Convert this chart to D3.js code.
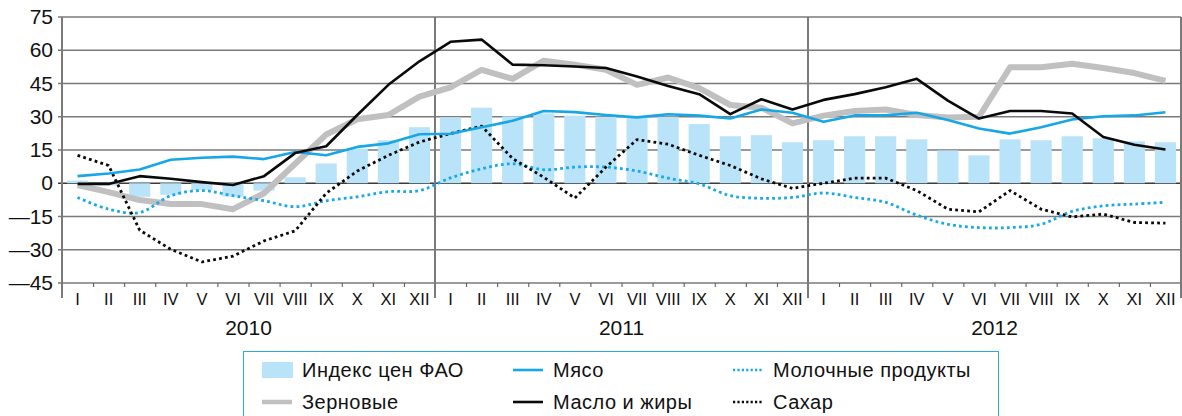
<html>
<meta charset="utf-8">
<body style="margin:0;background:#fff">
<script src="https://d3js.org/d3.v7.min.js"></script>
<div id="chart"></div>
<script>

// month labels and years
var months = ["I","II","III","IV","V","VI","VII","VIII","IX","X","XI","XII"]
var years = ["2010","2011","2012"]

// values, % change, Jan 2010 .. Dec 2012
var fao = [1.2,-1,-6.1,-5.2,-3,-6,-3.3,2.7,8.9,15.6,19.4,25.3,
           29.8,34.1,30.2,31.5,30.5,30,29.7,30,26.7,21.2,21.7,18.5,
           19.4,21.2,21.2,19.8,14.8,12.6,19.8,19.4,21.2,20.3,18.9,18.5]
var meat = [3.2,4.4,6.2,10.6,11.5,12,10.9,14.1,12.6,16.4,18,22.1,
            22.3,25.3,28.2,32.6,32.1,30.8,29.7,31.1,30.5,29.2,33.3,31.8,
            27.7,30.6,30.6,31.8,28.5,24.7,22.4,25.3,28.8,30.2,30.6,32]
var cereals = [-0.8,-4,-7.6,-9.4,-9.4,-11.7,-4.5,8.8,22,28.9,30.8,39.1,
               43.3,51.2,47.1,55.3,53.5,51.2,44.4,47.7,42.9,35.3,34.1,27,
               30.5,32.6,33.3,30.8,29.7,30,52.3,52.3,53.9,52,49.7,46.2]
var oils = [-0.3,-0.3,3.2,2,0.5,-0.8,3.2,13.6,16.7,30.8,44.4,55,
            63.8,64.8,53.5,53.2,52.7,52,48.2,43.9,40.2,31.2,37.9,33.3,
            37.6,40.2,43.3,47.1,37.3,29.2,32.6,32.6,31.5,20.9,17.4,15.2]
var dairy = [-6.4,-11.7,-13.2,-5.6,-3.3,-5.6,-7.9,-10.6,-7.9,-6.1,-3.8,-3.3,
             2.4,6.5,8.8,6.1,7.3,7.3,5.5,2.3,-0.3,-5.6,-6.8,-6.4,
             -4.4,-6.4,-8.6,-14.4,-18.5,-20,-20,-18.5,-12.7,-10.2,-9.4,-8.6]
var sugar = [12.6,8,-21.2,-29.8,-35.5,-32.9,-26,-21.5,-4.5,5.5,12.6,18.6,
             22.4,25.8,11.1,2.7,-6.7,7.3,19.7,17.6,12.6,8,2,-2.3,
             0,2.3,2.3,-3.3,-11.7,-12.9,-3.3,-11.7,-15.2,-13.9,-17.7,-18]
var yTicks = [75,60,45,30,15,0,-15,-30,-45]

var legendItems = [
  {name: "Индекс цен ФАО", type: "bar"},
  {name: "Мясо", type: "meat"},
  {name: "Молочные продукты", type: "dairy"},
  {name: "Зерновые", type: "cereals"},
  {name: "Масло и жиры", type: "oils"},
  {name: "Сахар", type: "sugar"}
]

var W = 1182, H = 416
var pLeft = 62, pRight = 1181, pTop = 17, pBottom = 283

var svg = d3.select("#chart").append("svg")
    .attr("width", W).attr("height", H)
    .style("font-family", "'Liberation Sans', Arial, sans-serif")

var idx = d3.range(36)
var xb = d3.scaleBand().domain(idx).range([pLeft, pRight]).paddingInner(0.32).paddingOuter(0.16)
var xl = d3.scaleLinear().domain([0, 36]).range([pLeft, pRight])
var y = d3.scaleLinear().domain([-45, 75]).range([pBottom, pTop])
var cx = function(i) { return xl(i + 0.5) }

// gridlines (behind the bars)
svg.append("g").selectAll("line").data(yTicks).enter().append("line")
    .attr("x1", pLeft - 4).attr("x2", pRight)
    .attr("y1", function(d) { return y(d) }).attr("y2", function(d) { return y(d) })
    .attr("stroke", function(d) { return d == 0 ? "#3a3a3a" : "#7a7a7a" })
    .attr("stroke-width", 1.6)

// bars
svg.append("g").selectAll("rect").data(fao).enter().append("rect")
    .attr("x", function(d, i) { return xb(i) })
    .attr("width", xb.bandwidth())
    .attr("y", function(d) { return y(Math.max(0, d)) })
    .attr("height", function(d) { return Math.abs(y(d) - y(0)) })
    .attr("fill", "#b9e3f8")

// y axis labels
var yAxis = d3.axisLeft(y).tickValues(yTicks).tickSize(0).tickPadding(9)
    .tickFormat(function(d) { return d < 0 ? "—" + Math.abs(d) : d })
var ya = svg.append("g").attr("transform", "translate(" + pLeft + ",0)").call(yAxis)
ya.select(".domain").remove()
ya.selectAll("text").attr("font-size", 21).attr("fill", "#111").attr("font-family", "'Liberation Sans', Arial, sans-serif")

// month ticks
var tAxis = d3.axisBottom(xl).tickValues(d3.range(37)).tickSize(4).tickFormat("")
var ta = svg.append("g").attr("transform", "translate(0," + pBottom + ")").call(tAxis)
ta.select(".domain").remove()
ta.selectAll("line").attr("stroke", "#555").attr("stroke-width", 1)

// month labels
var mAxis = d3.axisBottom(xb).tickSize(0).tickPadding(10)
    .tickFormat(function(i) { return months[i % 12] })
var ma = svg.append("g").attr("transform", "translate(0," + pBottom + ")").call(mAxis)
ma.select(".domain").remove()
ma.selectAll("text").attr("font-size", 16.5).attr("fill", "#111").attr("font-family", "'Liberation Sans', Arial, sans-serif")

// year labels
svg.append("g").selectAll("text").data(years).enter().append("text")
    .attr("x", function(d, i) { return xl(i * 12 + 6) })
    .attr("y", 335)
    .attr("text-anchor", "middle")
    .attr("font-size", 21).attr("fill", "#111")
    .text(function(d) { return d })

// vertical separators: axis, year boundaries
svg.append("g").selectAll("line").data([0, 12, 24, 36]).enter().append("line")
    .attr("x1", function(d) { return xl(d) }).attr("x2", function(d) { return xl(d) })
    .attr("y1", pTop).attr("y2", 298)
    .attr("stroke", "#7a7a7a").attr("stroke-width", 2)

var styles = {
  cereals: {color: "#c0c0c0", width: 6, dash: null},
  meat: {color: "#17a7e6", width: 2.6, dash: null},
  oils: {color: "#0a0a0a", width: 2.6, dash: null},
  dairy: {color: "#1aa9e8", width: 2.8, dash: "2.8,3.2"},
  sugar: {color: "#0a0a0a", width: 2.8, dash: "2.8,3.2"}
}
var series = [
  {key: "cereals", values: cereals, curve: d3.curveLinear},
  {key: "dairy", values: dairy, curve: d3.curveCatmullRom},
  {key: "sugar", values: sugar, curve: d3.curveLinear},
  {key: "meat", values: meat, curve: d3.curveLinear},
  {key: "oils", values: oils, curve: d3.curveLinear}
]

series.forEach(function(s) {
  var st = styles[s.key]
  svg.append("path").datum(s.values)
    .attr("d", d3.line().x(function(d, i) { return cx(i) }).y(function(d) { return y(d) }).curve(s.curve))
    .attr("fill", "none")
    .attr("stroke", st.color)
    .attr("stroke-width", st.width)
    .attr("stroke-linejoin", "round")
    .attr("stroke-dasharray", st.dash)
})

// legend
var lg = svg.append("g")
lg.append("rect").attr("x", 243.5).attr("y", 351.5).attr("width", 755).attr("height", 80)
    .attr("fill", "#fff").attr("stroke", "#29abe2").attr("stroke-width", 1)

var colX = [262, 513, 733]
var rowY = [370, 402]
legendItems.forEach(function(it, k) {
  var c = k % 3, r = Math.floor(k / 3)
  var gx = colX[c], gy = rowY[r]
  if (it.type == "bar") {
    lg.append("rect").attr("x", gx).attr("y", gy - 8).attr("width", 31).attr("height", 16).attr("fill", "#b9e3f8")
  } else {
    var st = styles[it.type]
    lg.append("line").attr("x1", gx).attr("x2", gx + 30).attr("y1", gy).attr("y2", gy)
      .attr("stroke", st.color)
      .attr("stroke-width", it.type == "cereals" ? 4.5 : (st.dash ? 2.4 : 2.6))
      .attr("stroke-dasharray", st.dash ? "2.2,2.2" : null)
  }
  lg.append("text").attr("x", gx + 40).attr("y", gy + 7)
    .attr("font-size", 20).attr("letter-spacing", 0.5).attr("fill", "#111")
    .text(it.name)
})

</script>
</body>
</html>
